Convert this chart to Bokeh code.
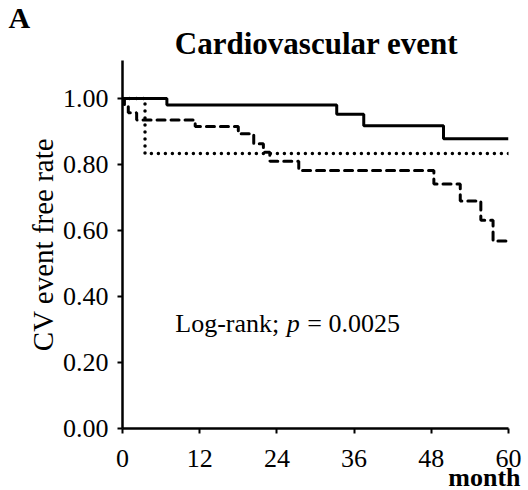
from bokeh.plotting import figure
from bokeh.models import Label, FixedTicker, Range1d, Title
from bokeh.layouts import column
from bokeh.embed import file_html
from bokeh.resources import INLINE

# ---- data ----
solid_t = [0, 6.9, 33.3, 37.5, 49.9, 60]
solid_s = [1.0, 0.980, 0.952, 0.917, 0.878, 0.878]

dotted_t = [0, 3.5, 60]
dotted_s = [1.0, 0.833, 0.833]

dashed_t = [0, 0.3, 0.9, 2.2, 11.3, 18.0, 20.4, 21.9, 22.9, 27.4, 48.4, 52.5, 55.7, 57.6, 60]
dashed_s = [1.0, 0.978, 0.957, 0.935, 0.915, 0.893, 0.863, 0.837, 0.810, 0.782, 0.741, 0.689, 0.631, 0.568, 0.568]

x_ticks = [0, 12, 24, 36, 48, 60]
y_ticks = [0.0, 0.2, 0.4, 0.6, 0.8, 1.0]
y_tick_labels = ["0.00", "0.20", "0.40", "0.60", "0.80", "1.00"]
y_axis_top = 1.115

FONT = "Liberation Serif"

# ---- header strip (panel letter + title) ----
W = 528
HEAD_H = 60
head = figure(width=W, height=HEAD_H, output_backend="svg", toolbar_location=None,
              x_range=Range1d(0, W), y_range=Range1d(HEAD_H, 0),
              x_axis_location=None, y_axis_location=None,
              min_border_left=0, min_border_right=0, min_border_top=0, min_border_bottom=0)
head.frame_align = False
head.outline_line_color = None
head.xgrid.visible = False
head.ygrid.visible = False
head.add_layout(Label(x=8, y=17, text="A", text_font=FONT, text_font_size="30px",
                      text_font_style="bold", text_align="left", text_baseline="alphabetic",
                      text_color="black"))
head.add_layout(Label(x=316, y=43, text="Cardiovascular event", text_font=FONT,
                      text_font_size="31px", text_font_style="bold", text_align="center",
                      text_baseline="alphabetic", text_color="black"))

# ---- main chart ----
p = figure(width=W, height=430, output_backend="svg", toolbar_location=None,
           x_range=Range1d(0, 60), y_range=Range1d(0, y_axis_top),
           min_border_left=122, min_border_right=20, min_border_top=0, min_border_bottom=62)
p.frame_align = False
p.title.text = ""
p.outline_line_color = None
p.xgrid.visible = False
p.ygrid.visible = False
p.background_fill_color = "white"
p.border_fill_color = "white"

for ax in (p.xaxis[0], p.yaxis[0]):
    ax.axis_line_width = 2.5
    ax.axis_line_color = "black"
    ax.major_tick_line_width = 2
    ax.major_tick_line_color = "black"
    ax.major_tick_out = 5
    ax.major_tick_in = 0
    ax.minor_tick_out = 0
    ax.minor_tick_in = 0
    ax.major_label_text_font = FONT
    ax.major_label_text_font_size = "26px"
    ax.major_label_text_color = "black"

p.xaxis[0].ticker = FixedTicker(ticks=x_ticks)
p.xaxis[0].major_label_standoff = 16
p.yaxis[0].ticker = FixedTicker(ticks=y_ticks)
p.yaxis[0].major_label_overrides = {t: l for t, l in zip(y_ticks, y_tick_labels)}
p.yaxis[0].major_label_standoff = 9
p.yaxis[0].axis_label = "CV event free rate"
p.yaxis[0].axis_label_text_font = FONT
p.yaxis[0].axis_label_text_font_size = "29px"
p.yaxis[0].axis_label_text_font_style = "normal"
p.yaxis[0].axis_label_text_color = "black"
p.yaxis[0].axis_label_standoff = 1

p.add_layout(Title(text="month", text_font=FONT, text_font_size="26px", text_font_style="bold",
                   align="right", offset=-12, text_color="black", standoff=-18), "below")

# ---- curves ----
p.step(solid_t, solid_s, mode="after", line_color="black", line_width=3)
p.step(dotted_t, dotted_s, mode="after", line_color="black", line_width=3.5,
       line_dash="0 7", line_cap="round")
p.step(dashed_t, dashed_s, mode="after", line_color="black", line_width=3,
       line_dash="8 6", line_cap="round")

# ---- log-rank text ----
lx, ly = 8.2, 0.319
p.add_layout(Label(x=lx, y=ly, text="Log-rank;", text_font=FONT, text_font_size="26px",
                   text_baseline="alphabetic", text_color="black"))
p.add_layout(Label(x=lx, y=ly, x_offset=111.5, text="p", text_font=FONT, text_font_size="26px",
                   text_font_style="italic", text_baseline="alphabetic", text_color="black"))
p.add_layout(Label(x=lx, y=ly, x_offset=132, text="= 0.0025", text_font=FONT,
                   text_font_size="26px", text_baseline="alphabetic", text_color="black"))

layout = column(head, p, spacing=0)
open("out.html", "w").write(file_html(layout, INLINE))
